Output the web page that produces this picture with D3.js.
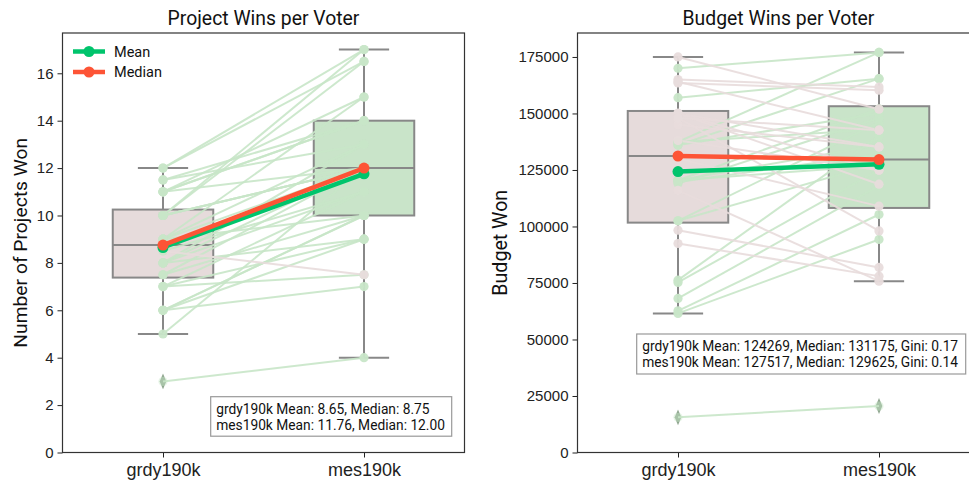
<!DOCTYPE html>
<html>
<head>
<meta charset="utf-8">
<script src="https://cdn.jsdelivr.net/npm/d3@7"></script>
<style>
  body { margin: 0; background: #fff; }
  svg { font-family: Roboto, "DejaVu Sans", sans-serif; }
</style>
</head>
<body>
<svg id="chart" width="969" height="480"></svg>
<script>
// ---------- DATA ----------
const categories = ["grdy190k", "mes190k"];

// Project wins per voter (paired: grdy190k -> mes190k)
const projGrdy = [3, 5, 6, 6, 6, 6, 7, 7, 7, 7.5, 7.5, 8, 8, 8, 8, 8.5, 8.5, 9, 9, 9, 9, 10, 10, 10, 10, 10, 11, 11, 11, 11.5, 11.5, 11, 12, 12];
const projMes  = [4, 12, 7, 9, 10, 10, 7.5, 9, 11, 10, 12, 9, 11, 12, 13, 7.5, 11, 10, 12, 13, 15, 12, 12, 12, 16.5, 17, 12, 14, 15, 13, 14, 14, 16.5, 17];
const projMean = [8.65, 11.76];
const projMedian = [8.75, 12.00];
const projQ1 = [7.38, 10];
const projQ3 = [10.25, 14];
const projWhiskerLo = [5, 4];
const projWhiskerHi = [12, 17];
const projTicks = [0, 2, 4, 6, 8, 10, 12, 14, 16];
const projYMax = 17.7;

// Budget wins per voter
const budGrdy = [15560, 61540, 62690, 68160, 75240, 76260, 102500, 102500, 120470, 119000, 119700, 120470, 120470, 136000, 136000, 137400, 137400, 157000, 170000,
                 175000, 165000, 163500, 164000, 150000, 150000, 150000, 98360, 92470, 116000, 148000, 130000, 145000, 148000, 138000];
const budMes  = [20560, 94250, 105300, 118000, 125000, 140000, 128000, 146000, 136000, 148000, 132000, 152000, 127000, 165400, 150000, 177000, 143000, 165400, 177000,
                 151900, 161700, 160300, 142600, 135200, 124900, 118700, 81870, 78030, 75800, 98050, 109000, 135200, 142600, 124900];
const budMean = [124269, 127517];
const budMedian = [131175, 129625];
const budQ1 = [101700, 108200];
const budQ3 = [151100, 153200];
const budWhiskerLo = [61540, 75800];
const budWhiskerHi = [175000, 177000];
const budTicks = [0, 25000, 50000, 75000, 100000, 125000, 150000, 175000];
const budYMax = 185600;
const budGini = [0.17, 0.14];

// ---------- STYLE ----------
const boxFill = ["#e6dbdb", "#c9e4c9"];
const upColor = "#c8e6c8";
const downColor = "#e8dcdc";
const meanColor = "#00c46c";
const medianColor = "#fd5436";
const gray = "#888888";

const svg = d3.select("#chart");
const plotTop = 33, plotBottom = 452.5;

// set a text element's font size so that it spans the given width
function fitWidth(sel, target) {
  sel.each(function () {
    const fs = parseFloat(d3.select(this).attr("font-size")) || 14;
    const w = this.getComputedTextLength();
    if (w > 0) d3.select(this).attr("font-size", (fs * target / w).toFixed(2));
  });
}

function panel(opt) {
  const g = svg.append("g");
  const x = d3.scaleLinear().domain([-0.5, 1.5]).range([opt.left, opt.left + 402]);
  const y = d3.scaleLinear().domain([0, opt.yMax]).range([plotBottom, plotTop]);

  // boxes
  categories.forEach((c, i) => {
    const bx = x(i - 0.25), bw = x(i + 0.25) - x(i - 0.25);
    g.append("line").attr("x1", x(i)).attr("x2", x(i)).attr("y1", y(opt.q1[i])).attr("y2", y(opt.lo[i]))
      .attr("stroke", gray).attr("stroke-width", 2);
    g.append("line").attr("x1", x(i)).attr("x2", x(i)).attr("y1", y(opt.q3[i])).attr("y2", y(opt.hi[i]))
      .attr("stroke", gray).attr("stroke-width", 2);
    [opt.lo[i], opt.hi[i]].forEach(v => {
      g.append("line").attr("x1", x(i - 0.125)).attr("x2", x(i + 0.125)).attr("y1", y(v)).attr("y2", y(v))
        .attr("stroke", gray).attr("stroke-width", 2);
    });
    g.append("rect").attr("x", bx).attr("y", y(opt.q3[i])).attr("width", bw)
      .attr("height", y(opt.q1[i]) - y(opt.q3[i]))
      .attr("fill", boxFill[i]).attr("stroke", gray).attr("stroke-width", 2);
    g.append("line").attr("x1", bx).attr("x2", bx + bw).attr("y1", y(opt.med[i])).attr("y2", y(opt.med[i]))
      .attr("stroke", gray).attr("stroke-width", 2);
  });

  // fliers (diamonds)
  const diamond = d3.symbol().type(d3.symbolDiamond).size(60);
  categories.forEach((c, i) => {
    const vals = i === 0 ? opt.a : opt.b;
    vals.filter(v => v < opt.lo[i] || v > opt.hi[i]).forEach(v => {
      g.append("path").attr("d", diamond).attr("transform", `translate(${x(i)},${y(v)}) scale(0.8,1.1)`)
        .attr("fill", "#8fa68f");
    });
  });

  // paired lines
  const pairs = opt.a.map((v, k) => ({ a: v, b: opt.b[k], up: opt.b[k] >= v }));
  g.append("g").selectAll("line").data(pairs).join("line")
    .attr("x1", x(0)).attr("x2", x(1))
    .attr("y1", d => y(d.a)).attr("y2", d => y(d.b))
    .attr("stroke", d => d.up ? upColor : downColor)
    .attr("stroke-width", 2).attr("stroke-opacity", 0.9);

  // points
  const pts = g.append("g");
  pairs.forEach(d => {
    [[0, d.a], [1, d.b]].forEach(([i, v]) => {
      const isFlier = v < opt.lo[i] || v > opt.hi[i];
      pts.append("circle").attr("cx", x(i)).attr("cy", y(v)).attr("r", 4.6)
        .attr("fill", d.up ? upColor : downColor).attr("fill-opacity", isFlier ? 0.45 : 0.95);
    });
  });

  // mean & median lines
  const lineGen = d3.line().x((d, i) => x(i)).y(d => y(d));
  [[opt.mean, meanColor], [opt.median, medianColor]].forEach(([arr, col]) => {
    g.append("path").attr("d", lineGen(arr)).attr("fill", "none").attr("stroke", col).attr("stroke-width", 4.5);
    arr.forEach((v, i) => g.append("circle").attr("cx", x(i)).attr("cy", y(v)).attr("r", 5.5).attr("fill", col));
  });

  // axes
  const yAxis = d3.axisLeft(y).tickValues(opt.ticks).tickSize(5).tickPadding(4).tickFormat(d3.format("d"));
  const ya = g.append("g").attr("transform", `translate(${opt.left},0)`).call(yAxis);
  const xAxis = d3.axisBottom(x).tickValues([0, 1]).tickSize(5).tickPadding(5).tickFormat(i => categories[i]);
  const xa = g.append("g").attr("transform", `translate(0,${plotBottom})`).call(xAxis);
  [ya, xa].forEach(a => {
    a.select(".domain").remove();
    a.selectAll(".tick line").attr("stroke", "#222").attr("stroke-width", 1);
    a.selectAll(".tick text").attr("fill", "#222");
  });
  ya.selectAll(".tick text").attr("font-size", 15);
  xa.selectAll(".tick text").attr("font-size", 18).attr("dy", "0.75em");

  // frame
  g.append("rect").attr("x", opt.left).attr("y", plotTop).attr("width", 402).attr("height", plotBottom - plotTop)
    .attr("fill", "none").attr("stroke", "#333").attr("stroke-width", 1.2);

  // title & y label
  const title = g.append("text").attr("x", opt.left + 201).attr("y", 25).attr("text-anchor", "middle")
    .attr("font-size", 17).attr("fill", "#111").text(opt.title);
  fitWidth(title, opt.titleW);
  const yl = g.append("text").attr("transform", `translate(${opt.ylabX},${(plotTop + plotBottom) / 2}) rotate(-90)`)
    .attr("text-anchor", "middle").attr("font-size", 17.5).attr("fill", "#111").text(opt.ylabel);
  fitWidth(yl, opt.ylabW);

  // stats box
  const tb = g.append("g");
  tb.append("rect").attr("x", opt.box[0]).attr("y", opt.box[1]).attr("width", opt.box[2]).attr("height", opt.box[3])
    .attr("fill", "#fff").attr("stroke", "#999").attr("stroke-width", 1.2);
  const txts = opt.lines.map((t, k) => tb.append("text").attr("x", opt.box[0] + 5.5).attr("y", opt.box[1] + 17 + k * 16)
      .attr("font-size", 13).attr("fill", "#111").text(t));
  // scale to the longest line's width in the reference
  const w0 = d3.max(txts, t => t.node().getComputedTextLength());
  const fs = 13 * opt.textW / w0;
  txts.forEach(t => t.attr("font-size", fs.toFixed(2)));
  return { x, y, g };
}

panel({
  left: 62.5, yMax: projYMax, a: projGrdy, b: projMes, mean: projMean, median: projMedian,
  q1: projQ1, q3: projQ3, lo: projWhiskerLo, hi: projWhiskerHi, med: projMedian, ticks: projTicks,
  title: "Project Wins per Voter", titleW: 192, ylabel: "Number of Projects Won", ylabX: 27, ylabW: 210,
  box: [210.7, 396.7, 241, 39.5], textW: 229,
  lines: categories.map((c, i) => `${c} Mean: ${projMean[i].toFixed(2)}, Median: ${projMedian[i].toFixed(2)}`)
});

panel({
  left: 577.5, yMax: budYMax, a: budGrdy, b: budMes, mean: budMean, median: budMedian,
  q1: budQ1, q3: budQ3, lo: budWhiskerLo, hi: budWhiskerHi, med: budMedian, ticks: budTicks,
  title: "Budget Wins per Voter", titleW: 192, ylabel: "Budget Won", ylabX: 507, ylabW: 106,
  box: [636.7, 334, 329, 40], textW: 316,
  lines: categories.map((c, i) => `${c} Mean: ${budMean[i]}, Median: ${budMedian[i]}, Gini: ${budGini[i].toFixed(2)}`)
});

// legend
const leg = svg.append("g");
[["Mean", meanColor, 51.5], ["Median", medianColor, 72]].forEach(([t, col, yy]) => {
  leg.append("line").attr("x1", 73).attr("x2", 105).attr("y1", yy).attr("y2", yy).attr("stroke", col).attr("stroke-width", 4.5);
  leg.append("circle").attr("cx", 89).attr("cy", yy).attr("r", 5.5).attr("fill", col);
  leg.append("text").attr("x", 114).attr("y", yy + 5).attr("font-size", 14.5).attr("fill", "#111").text(t);
});
</script>
</body>
</html>
